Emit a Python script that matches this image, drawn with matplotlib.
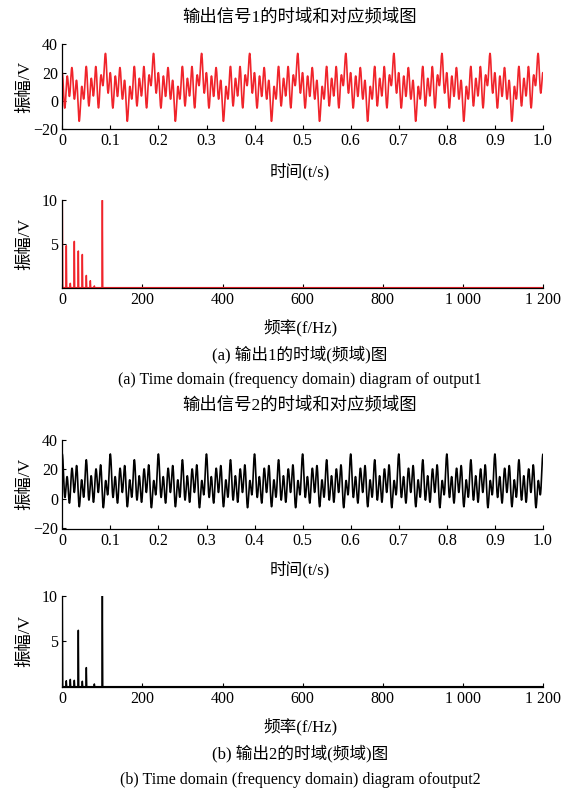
import itertools
import numpy as np
import matplotlib
matplotlib.use("Agg")
import matplotlib.pyplot as plt
from matplotlib.ticker import FuncFormatter

plt.rcParams['font.family'] = ['Liberation Serif', 'Noto Sans CJK SC']
plt.rcParams['axes.unicode_minus'] = True

# ---- data (component frequency in Hz, amplitude in V) ----
dc1 = 10.0
freqs1 = [10, 20, 30, 40, 50, 60, 70, 80, 100]
amps1 = [4.8, 0.5, 5.3, 4.2, 3.8, 1.4, 0.8, 0.2, 10.0]

dc2 = 10.0
freqs2 = [10, 20, 30, 40, 50, 60, 80, 100]
amps2 = [0.65, 0.8, 0.7, 6.2, 0.6, 2.1, 0.3, 10.0]

# values (V): max, min, value at t=0,
# typical peak-to-peak swing of one 10 ms cycle
time_max1, time_min1, time_start1, cycle_swing1 = 35.0, -17.0, 20.0, 30.0
time_max2, time_min2, time_start2, cycle_swing2 = 37.0, -12.0, 35.0, 30.0

fs = 2400
duration = 1.0
f_max = 1200

time_xticks = [0, 0.1, 0.2, 0.3, 0.4, 0.5, 0.6, 0.7, 0.8, 0.9, 1.0]
time_yticks = [-20, 0, 20, 40]
freq_xticks = [0, 200, 400, 600, 800, 1000, 1200]
freq_yticks = [5, 10]

titles = ["输出信号1的时域和对应频域图", "输出信号2的时域和对应频域图"]
captions_cn = ["(a) 输出1的时域(频域)图", "(b) 输出2的时域(频域)图"]
captions_en = ["(a) Time domain (frequency domain) diagram of output1",
               "(b) Time domain (frequency domain) diagram ofoutput2"]
ylabel = "振幅/V"
xlabel_t = "时间(t/s)"
xlabel_f = "频率(f/Hz)"

colors = ['#f0242b', '#000000']


def build_time(dc, freqs, amps, tmax, tmin, tstart, swing):
    """Synthesise the trace from the read spectral lines; the unknown phases of
    the four strongest non-100 Hz lines are picked on a fixed grid so the trace
    matches the extremes / swing read from the picture."""
    t = np.arange(0, duration, 1.0 / fs)
    freqs = np.asarray(freqs, float)
    amps = np.asarray(amps, float)
    order = [i for i in np.argsort(-amps) if freqs[i] != 100][:4]
    grid = np.arange(8) * np.pi / 4
    base = np.full_like(t, dc)
    for i in range(len(freqs)):
        if i not in order:
            base += amps[i] * np.cos(2 * np.pi * freqs[i] * t)
    comps = [amps[i] * np.cos(2 * np.pi * freqs[i] * t[None, :] + grid[:, None])
             for i in order]
    nwin = int(duration * 100)
    best, best_y = None, None
    for combo in itertools.product(range(8), repeat=len(order)):
        y = base.copy()
        for k, c in enumerate(combo):
            y += comps[k][c]
        w = y.reshape(nwin, -1)
        pp = (w.max(axis=1) - w.min(axis=1)).mean()
        err = ((y.max() - tmax) ** 2 + (y.min() - tmin) ** 2
               + 0.5 * (y[0] - tstart) ** 2 + 2.0 * (pp - swing) ** 2)
        if best is None or err < best:
            best, best_y = err, y
    t = np.append(t, duration)
    best_y = np.append(best_y, best_y[-1])
    return t, best_y


def build_spectrum(dc, freqs, amps):
    f = np.arange(0, f_max + 1)
    s = np.zeros_like(f, dtype=float)
    s[0] = dc
    for fr, a in zip(freqs, amps):
        s[fr] = a
    return f, s


W, H = 567, 795
fig = plt.figure(figsize=(W / 100, H / 100), dpi=100)


def fx(px):
    return px / W


def fy(py):
    return 1 - py / H


def style(ax):
    for side in ['top', 'right']:
        ax.spines[side].set_visible(False)
    for side in ['left', 'bottom']:
        ax.spines[side].set_linewidth(0.9)
    ax.tick_params(direction='in', length=3, width=0.8, labelsize=11.5, pad=3)


thousands = FuncFormatter(lambda v, p: f"{int(v):,}".replace(",", " "))
tfmt = FuncFormatter(lambda v, p: "0" if v == 0 else f"{v:.1f}")

layouts = [
    dict(t_top=44.3, t_bot=129.3, f_top=200.3, f_bot=287.7,
         title=17, xl_t=172, xl_f=328, cap=354, eng=380),
    dict(t_top=440.0, t_bot=528.5, f_top=595.7, f_bot=686.7,
         title=405, xl_t=570, xl_f=727, cap=753, eng=780),
]
data = [(dc1, freqs1, amps1, time_max1, time_min1, time_start1, cycle_swing1),
        (dc2, freqs2, amps2, time_max2, time_min2, time_start2, cycle_swing2)]

left, right = 62.3, 543.0
xc = fx(300)

for i, (L, (dc, fr, am, tmx, tmn, tst, sw)) in enumerate(zip(layouts, data)):
    c = colors[i]
    ax = fig.add_axes([fx(left), fy(L['t_bot']), fx(right - left),
                       (L['t_bot'] - L['t_top']) / H])
    t, y = build_time(dc, fr, am, tmx, tmn, tst, sw)
    ax.plot(t, y, color=c, lw=1.2)
    ax.set_xlim(0, 1.0)
    ax.set_ylim(-20, 40)
    ax.set_xticks(time_xticks)
    ax.set_yticks(time_yticks)
    ax.xaxis.set_major_formatter(tfmt)
    style(ax)

    ax2 = fig.add_axes([fx(left), fy(L['f_bot']), fx(right - left),
                        (L['f_bot'] - L['f_top']) / H])
    f, s = build_spectrum(dc, fr, am)
    ax2.plot(f, s, color=c, lw=1.1)
    ax2.set_xlim(0, 1200)
    ax2.set_ylim(0, 10)
    ax2.set_xticks(freq_xticks)
    ax2.set_yticks(freq_yticks)
    ax2.xaxis.set_major_formatter(thousands)
    style(ax2)

    fig.text(xc, fy(L['title']), titles[i], ha='center', va='center', fontsize=12.5)
    fig.text(xc, fy(L['xl_t']), xlabel_t, ha='center', va='center', fontsize=12)
    fig.text(xc, fy(L['xl_f']), xlabel_f, ha='center', va='center', fontsize=12)
    fig.text(xc, fy(L['cap']), captions_cn[i], ha='center', va='center', fontsize=12)
    fig.text(xc, fy(L['eng']), captions_en[i], ha='center', va='center', fontsize=11.5)
    fig.text(fx(25), fy((L['t_top'] + L['t_bot']) / 2), ylabel, rotation=90,
             ha='center', va='center', fontsize=12.5)
    fig.text(fx(25), fy((L['f_top'] + L['f_bot']) / 2), ylabel, rotation=90,
             ha='center', va='center', fontsize=12.5)

fig.savefig("out.png", dpi=100)
